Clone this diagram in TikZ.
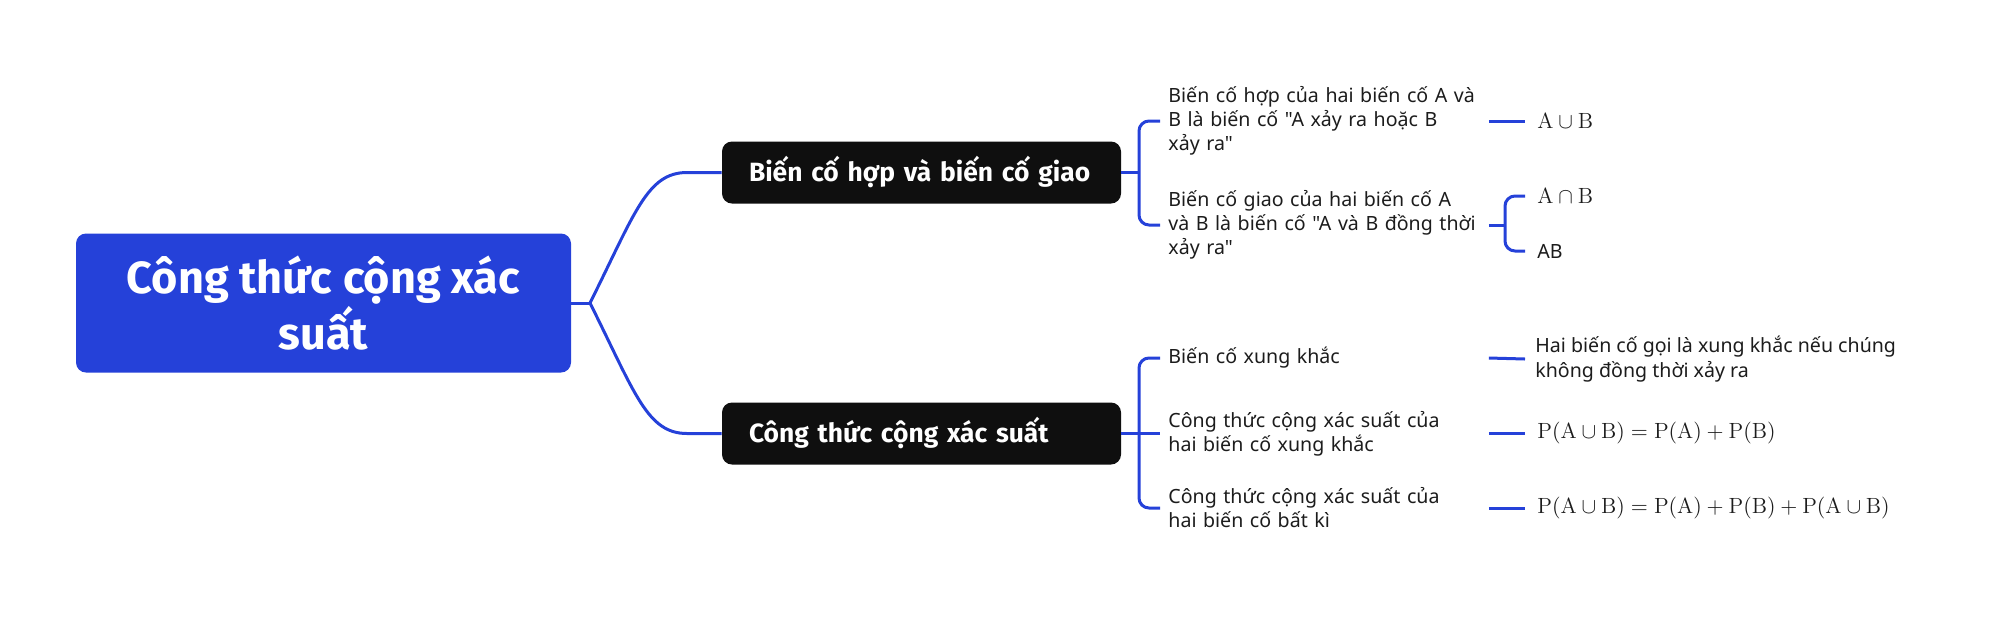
\documentclass[tikz,border=0pt]{standalone}
\usepackage{fontspec}
\newfontfamily\mapfont{Noto Sans}
\newfontfamily\mapbold{Fira Sans}
\usetikzlibrary{calc}
\definecolor{mapblue}{HTML}{2541D9}
\definecolor{mapblack}{HTML}{0F0F0F}
\definecolor{maptext}{HTML}{1C1C1C}
\tikzset{
  rootbox/.style={fill=mapblue, rounded corners=5pt, minimum width=247.5pt, minimum height=69.5pt,
    text=white, align=center, font=\mapbold\bfseries\fontsize{22.5}{23.5}\selectfont},
  branchbox/.style={fill=mapblack, rounded corners=5pt, minimum height=31pt, text width=172.5pt,
    inner xsep=13.5pt, align=left, text=white, font=\mapbold\bfseries\fontsize{13.2}{15}\selectfont},
  item/.style={anchor=west, text width=156pt, inner xsep=4pt, inner ysep=0pt, align=left,
    text=maptext, font=\mapfont\fontsize{9.8}{12}\selectfont},
  leaf/.style={anchor=west, inner xsep=6pt, inner ysep=0pt, align=left,
    text=maptext, font=\mapfont\fontsize{9.8}{12.5}\selectfont},
  formula/.style={leaf, font=\fontsize{11}{13}\selectfont},
  link/.style={draw=mapblue, line width=1.5pt},
}
\begin{document}
\begin{tikzpicture}[x=0.5pt,y=0.5pt,yscale=-1,xscale=1]
\useasboundingbox (0,0) rectangle (1998,618);

% main topic
\node[rootbox] (root) at (323.5,303) {Công thức cộng xác\\suất};

% branches
\node[branchbox] (b1) at (921.5,172.5) {\mbox{Biến cố hợp và biến cố giao}};
\node[branchbox] (b2) at (921.5,433.5) {Công thức cộng xác suất};

% sub topics
\node[item] (c1) at (1160,121) {Biến cố hợp của hai biến cố A và\\B là biến cố "A xảy ra hoặc B\\xảy ra"};
\node[item] (c2) at (1160,225) {Biến cố giao của hai biến cố A\\và B là biến cố "A và B đồng thời\\xảy ra"};
\node[item] (c3) at (1160,358) {Biến cố xung khắc};
\node[item] (c4) at (1160,433.5) {Công thức cộng xác suất của\\hai biến cố xung khắc};
\node[item] (c5) at (1160,508) {Công thức cộng xác suất của\\hai biến cố bất kì};

% leaves
\node[formula] (l1) at (1525,121) {$\mathrm{A\cup B}$};
\node[formula] (l2) at (1525,196) {$\mathrm{A\cap B}$};
\node[leaf] (l3) at (1525,251) {AB};
\node[leaf, inner xsep=5pt] (l4) at (1525,359) {Hai biến cố gọi là xung khắc nếu chúng\\không đồng thời xảy ra};
\node[formula] (l5) at (1525,433.5) {$\mathrm{P(A\cup B)=P(A)+P(B)}$};
\node[formula] (l6) at (1525,508) {$\mathrm{P(A\cup B)=P(A)+P(B)+P(A\cup B)}$};

% connectors from the main topic
\coordinate (j0) at (590,303);
\coordinate (e1) at (687,172.5);
\coordinate (e2) at (687,433.5);
\draw[link] (root.east) -- (j0);
\draw[link] (j0) .. controls +(45,-90) and +(-40,0) .. (e1) -- (b1.west);
\draw[link] (j0) .. controls +(45,90) and +(-40,0) .. (e2) -- (b2.west);

% brackets
\coordinate (k1) at (1139,172.5);
\coordinate (k2) at (1139,433.5);
\coordinate (k3) at (1505,225);
\draw[link] (b1.east) -- (k1);
\draw[link, rounded corners=5pt] (c1.west) -| (k1) |- (c2.west);
\draw[link] (b2.east) -- (c4.west);
\draw[link, rounded corners=5pt] (c3.west) -| (k2) |- (c5.west);
\draw[link] (c2.east) -- (k3);
\draw[link, rounded corners=5pt] (l2.west) -| (k3) |- (l3.west);

% leaf lines
\draw[link] (c1.east) -- (l1.west);
\draw[link] (c3.east) -- (l4.west);
\draw[link] (c4.east) -- (l5.west);
\draw[link] (c5.east) -- (l6.west);
\end{tikzpicture}
\end{document}
